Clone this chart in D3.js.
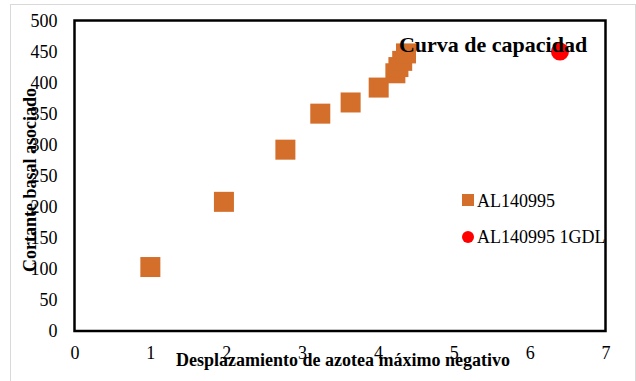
<!DOCTYPE html>
<html><head><meta charset="utf-8">
<script src="https://cdn.jsdelivr.net/npm/d3@7"></script>
<style>body{margin:0;background:#fff;}svg{display:block;font-family:"Liberation Serif","Times New Roman",serif;}</style>
</head><body>
<script>
const seriesName = "AL140995";
const seriesX = [1.00, 1.97, 2.78, 3.24, 3.64, 4.01, 4.23, 4.27, 4.32, 4.37];
const seriesY = [103, 208, 292, 350, 368, 392, 415, 425, 435, 447];
const sdofName = "AL140995 1GDL";
const sdofX = [6.4];
const sdofY = [450];
const xTicks = [0,1,2,3,4,5,6,7];
const yTicks = [0,50,100,150,200,250,300,350,400,450,500];
const chartTitle = "Curva de capacidad";
const xTitle = "Desplazamiento de azotea máximo negativo";
const yTitle = "Cortante basal asociado";

const W = 636, H = 381;
const svg = d3.select("body").append("svg").attr("width", W).attr("height", H);
svg.append("rect").attr("x",0).attr("y",0).attr("width",W).attr("height",H).attr("fill","#fff");
svg.append("rect").attr("x",10.5).attr("y",4.5).attr("width",625).attr("height",420)
  .attr("fill","none").attr("stroke","#d9d9d9").attr("stroke-width",1);

const x = d3.scaleLinear().domain([0,7]).range([74.5,605.5]);
const y = d3.scaleLinear().domain([0,500]).range([331,20.5]);

// tick labels via axes
const xAxis = svg.append("g").attr("transform",`translate(0,${y(0)})`)
  .call(d3.axisBottom(x).tickValues(xTicks).tickSize(0).tickPadding(15).tickFormat(d3.format("d")));
xAxis.select(".domain").remove();
xAxis.selectAll("text").attr("font-size",18).attr("font-family","Liberation Serif").attr("fill","#000");

const yAxis = svg.append("g").attr("transform",`translate(${x(0)},0)`)
  .call(d3.axisLeft(y).tickValues(yTicks).tickSize(0).tickPadding(17).tickFormat(d3.format("d")));
yAxis.select(".domain").remove();
yAxis.selectAll("text").attr("font-size",18).attr("font-family","Liberation Serif").attr("fill","#000");

// plot frame
svg.append("rect").attr("x",x(0)).attr("y",y(500)).attr("width",x(7)-x(0)).attr("height",y(0)-y(500))
  .attr("fill","none").attr("stroke","#000").attr("stroke-width",2.5);

const pts = seriesX.map((v,i)=>({x:v,y:seriesY[i]}));
const s = 20;
svg.append("g").selectAll("rect").data(pts).join("rect")
  .attr("x",d=>x(d.x)-s/2).attr("y",d=>y(d.y)-s/2).attr("width",s).attr("height",s)
  .attr("fill","#D46E2B");

const sd = sdofX.map((v,i)=>({x:v,y:sdofY[i]}));
svg.append("g").selectAll("circle").data(sd).join("circle")
  .attr("cx",d=>x(d.x)).attr("cy",d=>y(d.y)).attr("r",9).attr("fill","#FF0000");

// title
svg.append("text").attr("x",493).attr("y",52).attr("text-anchor","middle")
  .attr("font-size",22).attr("font-weight","bold").text(chartTitle);

// legend
const lg = svg.append("g");
lg.append("rect").attr("x",462).attr("y",194).attr("width",12).attr("height",12).attr("fill","#D46E2B");
lg.append("text").attr("x",477).attr("y",207).attr("font-size",18).text(seriesName);
lg.append("circle").attr("cx",468).attr("cy",237).attr("r",6).attr("fill","#FF0000");
lg.append("text").attr("x",477).attr("y",243).attr("font-size",18).text(sdofName);

// axis titles
svg.append("text").attr("x",(x(0)+x(7))/2+3).attr("y",366).attr("text-anchor","middle")
  .attr("font-size",18).attr("font-weight","bold").text(xTitle);
svg.append("text").attr("transform","translate(36,180) rotate(-90)").attr("text-anchor","middle")
  .attr("font-size",18).attr("font-weight","bold").text(yTitle);
</script>
</body></html>
